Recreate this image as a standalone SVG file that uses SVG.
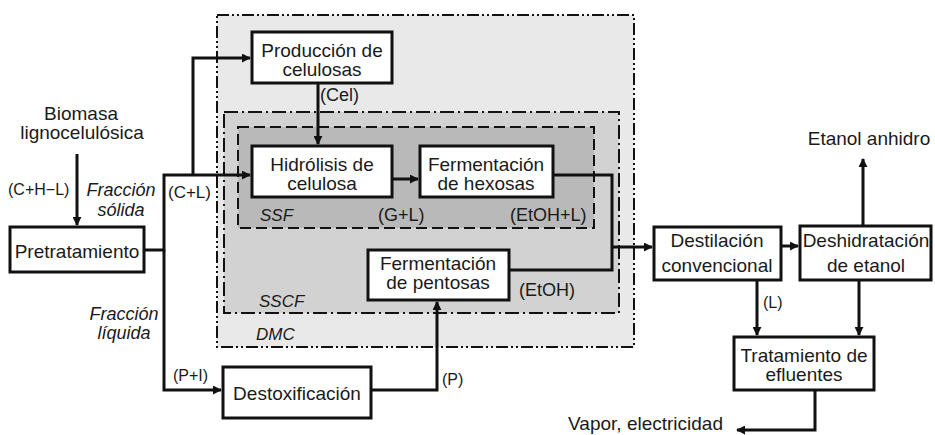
<svg xmlns="http://www.w3.org/2000/svg" width="935" height="435" viewBox="0 0 935 435">
<style>
text{font-family:"Liberation Sans",Arial,sans-serif;fill:#1a1a1a}
.t{font-size:19px;text-anchor:middle}
.l{font-size:17px}
.i{font-style:italic}
.box{fill:#fff;stroke:#111;stroke-width:3}
.c{fill:none;stroke:#111;stroke-width:3}
</style>
<defs>
<marker id="ah" viewBox="0 0 10 10" refX="9" refY="5" markerWidth="3" markerHeight="3" orient="auto" markerUnits="strokeWidth">
<path d="M0,0 L10,5 L0,10 z" fill="#111"/>
</marker>
</defs>
<rect width="935" height="435" fill="#fff"/>
<g id="zones">
<rect x="217" y="15" width="417" height="332" fill="#e9e9e9" stroke="#111" stroke-width="2" stroke-dasharray="12 3 2 3 2 3"/>
<rect x="224" y="112" width="395" height="201" fill="#d2d2d2" stroke="#111" stroke-width="2" stroke-dasharray="14 4 2 4"/>
<rect x="238" y="127" width="356" height="101" fill="#b9b9b9" stroke="#111" stroke-width="2" stroke-dasharray="11 5"/>
<text class="l i" x="260" y="221" font-size="16">SSF</text>
<text class="l i" x="259" y="307" font-size="16">SSCF</text>
<text class="l i" x="256" y="340">DMC</text>
</g>
<g id="connectors">
<path class="c" d="M77,154 V225" marker-end="url(#ah)"/>
<path class="c" d="M144,250 H164 V175 H250" marker-end="url(#ah)"/>
<path class="c" d="M193,175 V58 H250" marker-end="url(#ah)"/>
<path class="c" d="M164,250 V390 H221" marker-end="url(#ah)"/>
<path class="c" d="M318,83 V144" marker-end="url(#ah)"/>
<path class="c" d="M392,179 H418" marker-end="url(#ah)"/>
<path class="c" d="M553,175 H612 V270 H509"/>
<path class="c" d="M612,247 H652" marker-end="url(#ah)"/>
<path class="c" d="M371,390 H437 V302" marker-end="url(#ah)"/>
<path class="c" d="M781,246 H798" marker-end="url(#ah)"/>
<path class="c" d="M863,226 V159" marker-end="url(#ah)"/>
<path class="c" d="M757,280 V335" marker-end="url(#ah)"/>
<path class="c" d="M859,280 V335" marker-end="url(#ah)"/>
<path class="c" d="M815,390 V430 H737" marker-end="url(#ah)"/>
</g>
<g id="labels">
<text class="t" x="81" y="120">Biomasa</text>
<text class="t" x="82" y="139">lignocelulósica</text>
<text x="8" y="195" font-size="16">(C+H−L)</text>
<text class="i" x="121" y="196" font-size="18" text-anchor="middle">Fracción</text>
<text class="i" x="121" y="216" font-size="18" text-anchor="middle">sólida</text>
<text x="168" y="198" font-size="17">(C+L)</text>
<text class="i" x="124" y="320" font-size="18" text-anchor="middle">Fracción</text>
<text class="i" x="124" y="339" font-size="18" text-anchor="middle">líquida</text>
<text x="173" y="381" font-size="16">(P+I)</text>
<text x="320" y="101" font-size="18">(Cel)</text>
<text x="378" y="221" font-size="18">(G+L)</text>
<text x="510" y="221" font-size="18">(EtOH+L)</text>
<text x="519" y="296" font-size="18">(EtOH)</text>
<text x="442" y="385" font-size="16">(P)</text>
<text x="763" y="308" font-size="16">(L)</text>
<text class="t" x="869" y="145">Etanol anhidro</text>
<text x="723" y="430" font-size="19" text-anchor="end">Vapor, electricidad</text>
</g>
<g id="pretratamiento"><rect class="box" x="10" y="227" width="134" height="45"/><text class="t" x="77" y="258">Pretratamiento</text></g>
<g id="produccion"><rect class="box" x="252" y="32" width="140" height="51"/><text class="t" x="322" y="57">Producción de</text><text class="t" x="322" y="76">celulosas</text></g>
<g id="hidrolisis"><rect class="box" x="252" y="146" width="140" height="51"/><text class="t" x="322" y="171">Hidrólisis de</text><text class="t" x="322" y="190">celulosa</text></g>
<g id="hexosas"><rect class="box" x="420" y="146" width="133" height="51"/><text class="t" x="486" y="171">Fermentación</text><text class="t" x="486" y="190">de hexosas</text></g>
<g id="pentosas"><rect class="box" x="368" y="250" width="141" height="50"/><text class="t" x="438" y="270">Fermentación</text><text class="t" x="438" y="289">de pentosas</text></g>
<g id="destoxificacion"><rect class="box" x="223" y="367" width="148" height="51"/><text class="t" x="297" y="400">Destoxificación</text></g>
<g id="destilacion"><rect class="box" x="654" y="227" width="127" height="53"/><text class="t" x="717" y="247">Destilación</text><text class="t" x="717" y="272">convencional</text></g>
<g id="deshidratacion"><rect class="box" x="800" y="226" width="131" height="54"/><text class="t" x="866" y="247">Deshidratación</text><text class="t" x="866" y="272">de etanol</text></g>
<g id="tratamiento"><rect class="box" x="734" y="337" width="140" height="53"/><text class="t" x="804" y="362">Tratamiento de</text><text class="t" x="804" y="381">efluentes</text></g>
</svg>
